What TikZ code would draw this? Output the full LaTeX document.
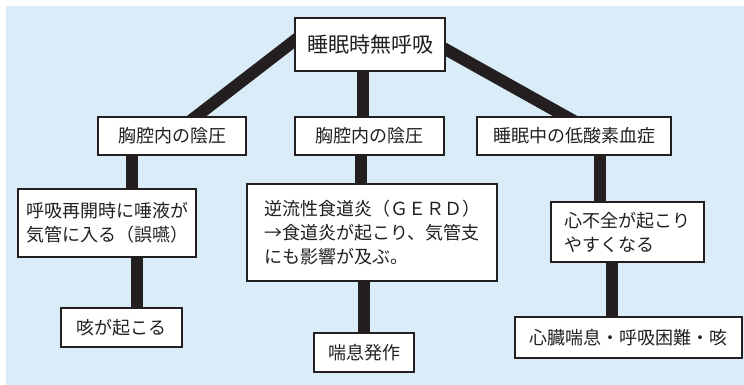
\documentclass[tikz,border=0pt]{standalone}
\usepackage{fontspec}
\newfontfamily\jpfont{Noto Sans CJK JP}
\usetikzlibrary{backgrounds}

\definecolor{ink}{RGB}{35,31,32}
\definecolor{sky}{RGB}{218,236,248}

\tikzset{
  box/.style={draw=ink, line width=2pt, fill=white, text=ink, inner sep=0pt, align=left,
    font=\jpfont\fontsize{18}{24}\selectfont},
  link/.style={draw=ink, line width=12pt},
}

\begin{document}
\begin{tikzpicture}[x=1pt,y=-1pt]
\useasboundingbox (0,0) rectangle (744,385);

% top of the tree
 \node[box, minimum width=150pt, minimum height=53pt, font=\jpfont\fontsize{21}{26}\selectfont] (apnea) at (370,44.5) {睡眠時無呼吸};

% second row
 \node[box, minimum width=148pt, minimum height=38pt] (chestL) at (172,136) {胸腔内の陰圧};
 \node[box, minimum width=149pt, minimum height=38pt] (chestM) at (369.5,136) {胸腔内の陰圧};
 \node[box, minimum width=194pt, minimum height=38pt] (hypox) at (574,136) {睡眠中の低酸素血症};

% third row
 \node[box, minimum width=178pt, minimum height=68pt] (saliva) at (107,223) {呼吸再開時に唾液が\\気管に入る（誤嚥）};
 \node[box, minimum width=250pt, minimum height=97pt] (gerd) at (372,232.5) {逆流性食道炎（ＧＥＲＤ）\\→食道炎が起こり、気管支\\にも影響が及ぶ。};
 \node[box, minimum width=153pt, minimum height=60pt] (heart) at (627.5,232) {心不全が起こり\\やすくなる};

% bottom row
 \node[box, minimum width=121pt, minimum height=39pt] (cough) at (121.5,327.5) {咳が起こる};
 \node[box, minimum width=100pt, minimum height=39pt] (asthma) at (364,352.5) {喘息発作};
 \node[box, minimum width=227pt, minimum height=41pt] (cardiac) at (628.5,337.5) {心臓喘息・呼吸困難・咳};

\begin{pgfonlayer}{background}
 \fill[white] (0,0) rectangle (744,385);
 \fill[sky] (6,6) rectangle (744,385);

 % thick bars, ends hidden under the boxes
 \draw[link] ([xshift=14.5pt,yshift=14.75pt]apnea.west) -- ([xshift=10.5pt,yshift=-11pt]chestL.north);
 \draw[link] ([xshift=-7pt]apnea.center) -- ([xshift=-6.5pt]chestM.center);
 \draw[link] ([xshift=-14.3pt,yshift=3pt]apnea.east) -- ([xshift=5.3pt,yshift=-8pt]hypox.north);

 \draw[link] ([xshift=-40pt]chestL.center) -- ([xshift=25pt]saliva.center);
 \draw[link] ([xshift=29.5pt]saliva.center) -- ([xshift=15pt]cough.center);

 \draw[link] ([xshift=-9pt]chestM.center) -- ([xshift=-11.5pt]gerd.center);
 \draw[link] ([xshift=-8.5pt]gerd.center) -- ([xshift=-0.5pt]asthma.center);

 \draw[link] ([xshift=25.5pt]hypox.center) -- ([xshift=-28pt]heart.center);
 \draw[link] ([xshift=-16pt]heart.center) -- ([xshift=-17pt]cardiac.center);
\end{pgfonlayer}

\end{tikzpicture}
\end{document}
